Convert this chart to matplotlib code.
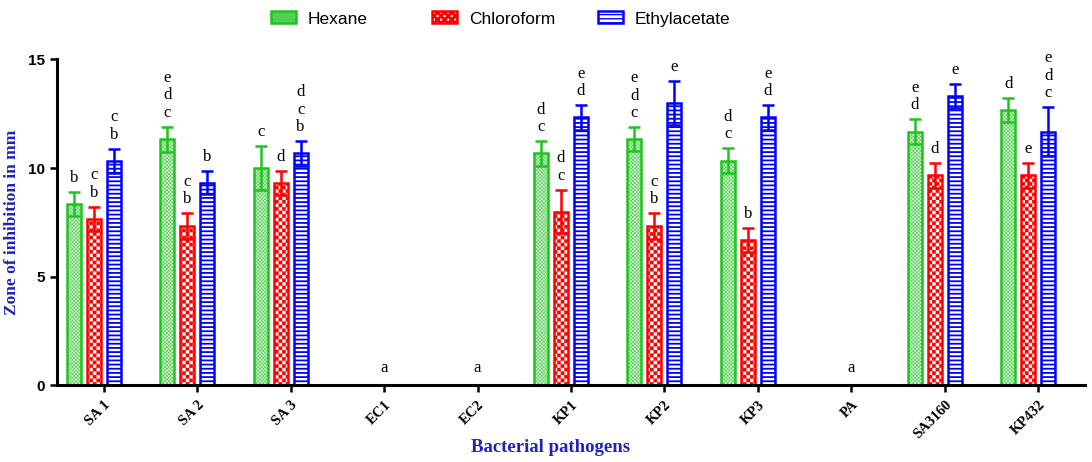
import warnings
import matplotlib
matplotlib.use("Agg")
import matplotlib.pyplot as plt
import matplotlib.hatch as mhatch
from matplotlib.path import Path
import numpy as np

warnings.filterwarnings("ignore")

categories = ["SA 1", "SA 2", "SA 3", "EC1", "EC2", "KP1", "KP2", "KP3", "PA", "SA3160", "KP432"]
series_names = ["Hexane", "Chloroform", "Ethylacetate"]
hexane = [8.33, 11.33, 10.0, 0, 0, 10.67, 11.33, 10.33, 0, 11.67, 12.67]
hexane_sd = [0.55, 0.57, 1.0, 0, 0, 0.57, 0.55, 0.57, 0, 0.57, 0.55]
chloroform = [7.67, 7.33, 9.33, 0, 0, 8.0, 7.33, 6.67, 0, 9.67, 9.67]
chloroform_sd = [0.55, 0.58, 0.55, 0, 0, 1.0, 0.58, 0.55, 0, 0.57, 0.57]
ethyl = [10.33, 9.33, 10.67, 0, 0, 12.33, 13.0, 12.33, 0, 13.33, 11.67]
ethyl_sd = [0.55, 0.53, 0.57, 0, 0, 0.57, 1.0, 0.57, 0, 0.55, 1.12]
hexane_letters = ["b", "e\nd\nc", "c", "", "", "d\nc", "e\nd\nc", "d\nc", "", "e\nd", "d"]
chloroform_letters = ["c\nb", "c\nb", "d", "", "", "d\nc", "c\nb", "b", "", "d", "e"]
ethyl_letters = ["c\nb", "b", "d\nc\nb", "", "", "e\nd", "e", "e\nd", "", "e", "e\nd\nc"]
zero_letters = ["", "", "", "a", "a", "", "", "", "a", "", ""]


class CheckerHatch(mhatch.HatchPatternBase):
    """Filled checkerboard squares; number of cells grows with count of 'c'."""
    def __init__(self, hatch, density):
        self.n = hatch.count('c') * 14
        self.num_vertices = (self.n * self.n // 2) * 5

    def set_vertices_and_codes(self, vertices, codes):
        n = self.n
        s = 1.0 / n
        idx = 0
        for i in range(n):
            for j in range(n):
                if (i + j) % 2 == 0:
                    x0, y0 = i * s, j * s
                    vertices[idx:idx + 5] = [[x0, y0], [x0 + s, y0], [x0 + s, y0 + s],
                                             [x0, y0 + s], [x0, y0]]
                    codes[idx:idx + 5] = [Path.MOVETO, Path.LINETO, Path.LINETO,
                                          Path.LINETO, Path.CLOSEPOLY]
                    idx += 5


mhatch._hatch_types.append(CheckerHatch)

colors = ["#1ec41e", "#ff0000", "#0000ff"]
hatch_colors = ["#4fd24f", "#ff0000", "#0000ff"]
hatches = ["cccc", "cc", "----"]
hatch_lws = [0.1, 0.1, 1.3]

fig = plt.figure(figsize=(10.92, 4.62), dpi=100)
ax = fig.add_axes([0.0522, 0.1656, 0.9414, 0.706])

x = np.arange(len(categories))
width = 0.15
step = 0.214
shift = -0.107
values = [hexane, chloroform, ethyl]
sds = [hexane_sd, chloroform_sd, ethyl_sd]
letters = [hexane_letters, chloroform_letters, ethyl_letters]

handles = []
for k in range(3):
    v = np.array(values[k], dtype=float)
    s = np.array(sds[k], dtype=float)
    m = v > 0
    xs = x + shift + (k - 1) * step
    with plt.rc_context({"hatch.linewidth": hatch_lws[k]}):
        b1 = ax.bar(xs[m], v[m], width=width, facecolor="white", edgecolor=hatch_colors[k],
                    hatch=hatches[k], linewidth=0, zorder=2)
    b2 = ax.bar(xs[m], v[m], width=width, fill=False, edgecolor=colors[k],
                linewidth=1.8, zorder=2.5)
    handles.append((b1, b2))
    ax.errorbar(xs[m], v[m], yerr=s[m], fmt="none", ecolor=colors[k], elinewidth=1.8,
                capsize=4.5, capthick=1.8, zorder=3)
    for xi, vi, si, t in zip(xs, v, s, letters[k]):
        if t:
            ax.annotate(t, (xi, vi + si), xytext=(0, 6), textcoords="offset pixels",
                        ha="center", va="bottom", fontsize=12, family="Liberation Serif",
                        linespacing=1.12, zorder=4)

for xi, t in zip(x, zero_letters):
    if t:
        ax.annotate(t, (xi, 0), xytext=(0, 9), textcoords="offset pixels",
                    ha="center", va="bottom", fontsize=12, family="Liberation Serif")

ax.set_xlim(-0.5, 10.5)
ax.set_ylim(0, 15)
ax.set_yticks([0, 5, 10, 15])
ax.set_xticks(x)
ax.set_xticklabels(categories, rotation=45, ha="right", rotation_mode="anchor",
                   fontsize=10.5, fontweight="bold", family="Liberation Serif")
for lab in ax.get_yticklabels():
    lab.set_fontweight("bold")
    lab.set_family("Liberation Sans")
    lab.set_fontsize(11)
for side in ["top", "right"]:
    ax.spines[side].set_visible(False)
for side in ["left", "bottom"]:
    ax.spines[side].set_linewidth(2.2)
ax.tick_params(axis="both", width=1.8, length=5, direction="out")
ax.tick_params(axis="x", pad=4)

ax.set_ylabel("Zone of inhibition in mm", fontsize=12.5, fontweight="bold",
              family="Liberation Serif", color="#2222bb")
ax.yaxis.set_label_coords(-0.036, 0.5)
ax.set_xlabel("Bacterial pathogens", fontsize=13.5, fontweight="bold",
              family="Liberation Serif", color="#2222bb")
ax.xaxis.set_label_coords(0.48, -0.165)

legend_x = [271, 432, 598]
for h, name, lx in zip(handles, series_names, legend_x):
    fig.legend(handles=[h], labels=[name], loc="center left",
               bbox_to_anchor=(lx / 1092, 1 - 19 / 462), frameon=False,
               prop={"family": "Liberation Sans", "size": 12.5},
               borderpad=0, borderaxespad=0,
               handlelength=1.44, handleheight=0.69, handletextpad=0.69)

fig.savefig("out.png", dpi=100)
